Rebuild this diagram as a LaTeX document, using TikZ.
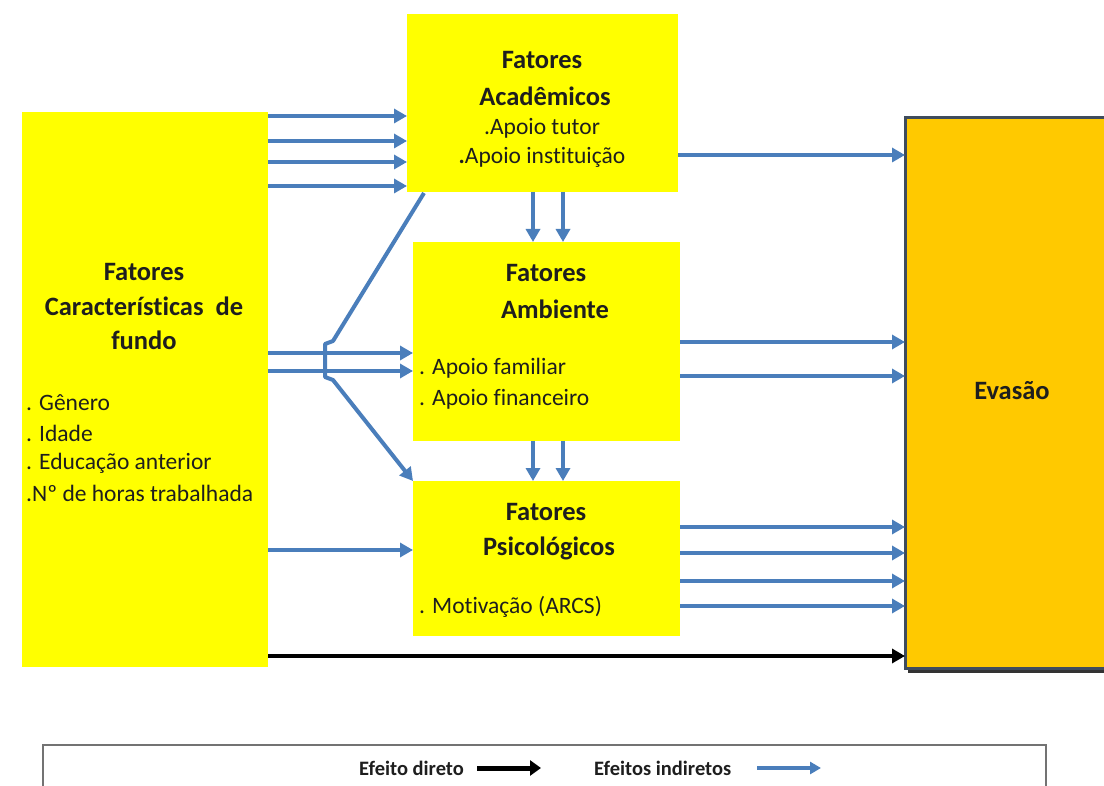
\documentclass[tikz,border=0pt]{standalone}
\usepackage{fontspec}
\setmainfont{Carlito}[Ligatures=NoCommon]
\usetikzlibrary{arrows.meta}
\definecolor{boxyellow}{HTML}{FFFF00}
\definecolor{evorange}{HTML}{FFC900}
\definecolor{evborder}{HTML}{3F4C5C}
\definecolor{arrowblue}{HTML}{4A7EBB}
\definecolor{txt}{HTML}{1E1E1E}
\begin{document}
\begin{tikzpicture}[x=1pt,y=-1pt,
  box/.style={draw=none,fill=boxyellow,inner sep=0pt,outer sep=0pt,anchor=north west},
  ttl/.style={font=\bfseries\fontsize{26.5}{28}\selectfont,text=txt,inner sep=0pt},
  itm/.style={font=\fontsize{23.5}{26}\selectfont,text=txt,inner sep=0pt},
  lgd/.style={font=\bfseries\fontsize{20.5}{22}\selectfont,text=txt,inner sep=0pt},
  ind/.style={draw=arrowblue,line width=4pt,line join=round,-{Triangle[length=13pt,width=14pt]}},
  dir/.style={draw=black,line width=4pt,-{Triangle[length=13pt,width=14pt]}}]
\useasboundingbox (0,0) rectangle (1104,786);
\clip (0,0) rectangle (1104,786);

% boxes
\node[box,minimum width=246pt,minimum height=555pt] (fundo) at (22,112) {};
\node[box,minimum width=271pt,minimum height=178pt] (acad) at (407,14) {};
\node[box,minimum width=267pt,minimum height=199pt] (amb) at (413,242) {};
\node[box,minimum width=267pt,minimum height=155pt] (psi) at (413,481) {};
\fill[black!80] (908,124) rectangle (1130,673);
\node[box,fill=evorange,draw=evborder,line width=3pt,minimum width=230pt,minimum height=550pt] (eva) at (905,118) {};

% texts: left box
\node[ttl] (f1) at (144,272) {Fatores};
\node[ttl] (f2) at (144,306) {Características\ \ de};
\node[ttl] (f3) at (144,340) {fundo};
\node[itm,anchor=west] (f4) at (26,403) {. Gênero};
\node[itm,anchor=west] (f5) at (26,433) {. Idade};
\node[itm,anchor=west] (f6) at (26,463) {. Educação anterior};
\node[itm,anchor=west] (f7) at (26,493) {.Nº de horas trabalhada};

% texts: academicos
\node[ttl] (a1) at (542,60) {Fatores};
\node[ttl] (a2) at (545,96) {Acadêmicos};
\node[itm] (a3) at (542,128) {.Apoio tutor};
\node[itm] (a4) at (542,157) {{\bfseries .}Apoio instituição};

% texts: ambiente
\node[ttl] (b1) at (546,273) {Fatores};
\node[ttl] (b2) at (555,309) {Ambiente};
\node[itm,anchor=west] (b3) at (419,368) {. Apoio familiar};
\node[itm,anchor=west] (b4) at (419,399) {. Apoio financeiro};

% texts: psicologicos
\node[ttl] (p1) at (546,512) {Fatores};
\node[ttl] (p2) at (549,548) {Psicológicos};
\node[itm,anchor=west] (p3) at (419,607) {. Motivação (ARCS)};

% evasao
\node[ttl] (e1) at (1012,391) {Evasão};

% arrows left -> academicos
\foreach \yy in {116,141,162,186}
  \draw[ind] (fundo.east |- 0,\yy) -- (acad.west |- 0,\yy);
% left -> ambiente
\foreach \yy in {353,371}
  \draw[ind] (fundo.east |- 0,\yy) -- (amb.west |- 0,\yy);
% left -> psicologicos
\draw[ind] (fundo.east |- 0,550) -- (psi.west |- 0,550);
% bracket
\coordinate (brtop) at (424,193);
\draw[ind] (brtop) -- (333,341) -- (325,344) -- (325,377) -- (333,380) -- (psi.north west);
% vertical arrows
\foreach \xx in {533,563} {
  \draw[ind] (acad.south -| \xx,0) -- (amb.north -| \xx,0);
  \draw[ind] (amb.south -| \xx,0) -- (psi.north -| \xx,0);
}
% to evasao
\draw[ind] (acad.east |- 0,155) -- (eva.west |- 0,155);
\foreach \yy in {342,376}
  \draw[ind] (amb.east |- 0,\yy) -- (eva.west |- 0,\yy);
\foreach \yy in {527,553,581,606}
  \draw[ind] (psi.east |- 0,\yy) -- (eva.west |- 0,\yy);
% direct
\draw[dir] (fundo.east |- 0,656) -- (eva.west |- 0,656);

% legend
\node[draw=black!55,line width=1.5pt,inner sep=0pt,anchor=north west,minimum width=1003pt,minimum height=80pt] (legend) at (42,744) {};
\node[lgd,anchor=west] (l1) at (359,768) {Efeito direto};
\coordinate (l1a) at (477,768);
\coordinate (l1b) at (541,768);
\draw[draw=black,line width=5pt,-{Triangle[length=11pt,width=15pt]}] (l1a) -- (l1b);
\node[lgd,anchor=west] (l2) at (594,768) {Efeitos indiretos};
\coordinate (l2a) at (757,768);
\coordinate (l2b) at (821,768);
\draw[draw=arrowblue,line width=3.5pt,-{Triangle[length=11pt,width=12pt]}] (l2a) -- (l2b);
\end{tikzpicture}
\end{document}
